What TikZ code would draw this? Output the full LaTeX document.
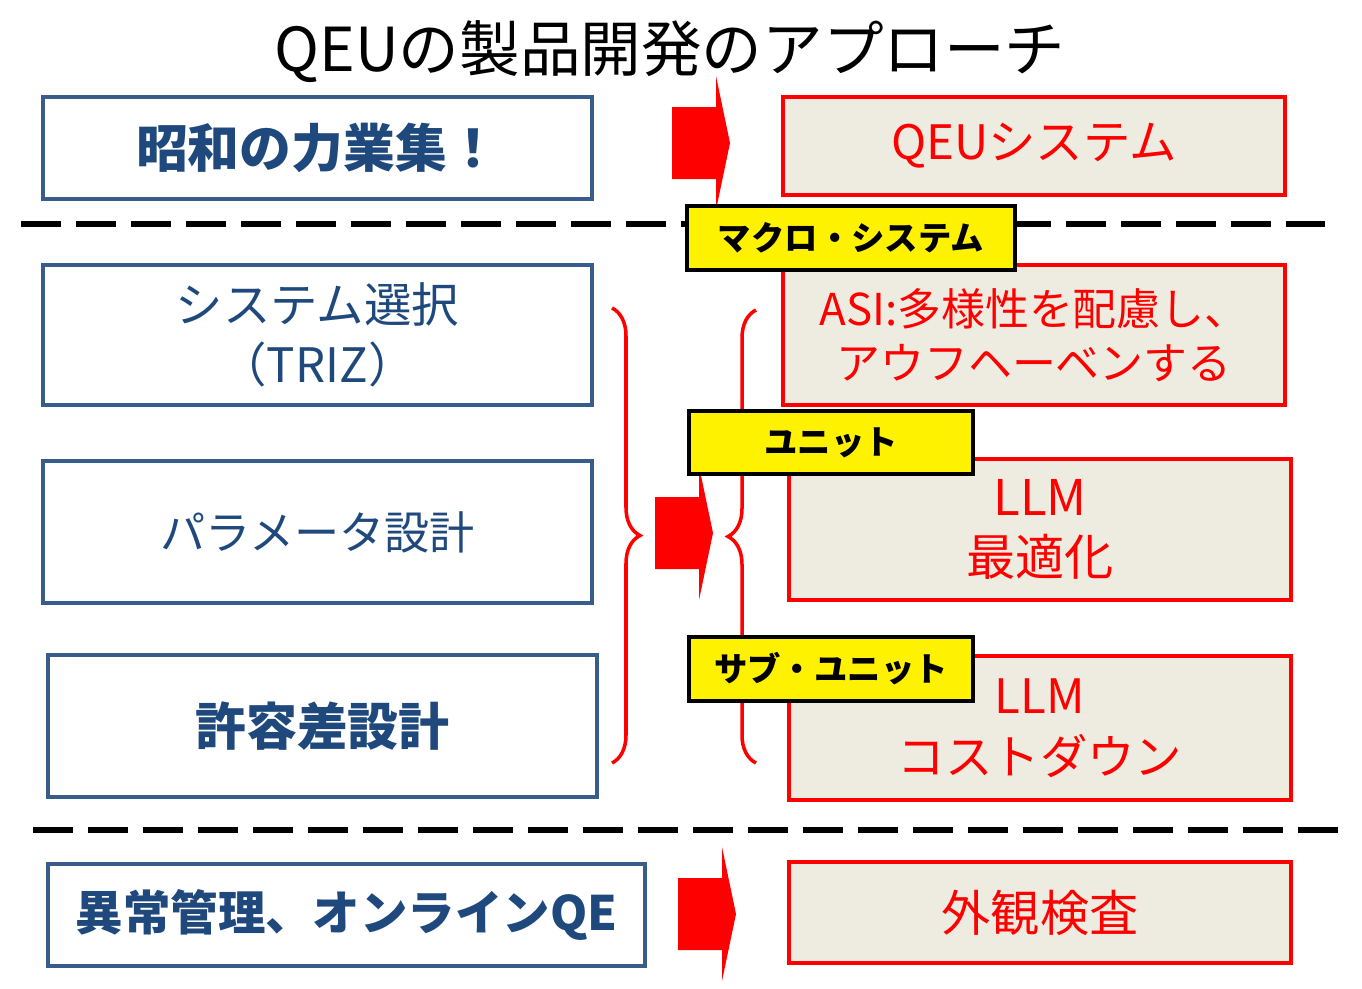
\documentclass[tikz,border=0pt]{standalone}
\usepackage{fontspec}
\setmainfont{Noto Sans CJK JP}
\usetikzlibrary{decorations.pathreplacing}
\definecolor{boxblue}{RGB}{56,93,138}
\definecolor{textblue}{RGB}{31,73,125}
\definecolor{boxtan}{RGB}{238,236,225}
\newcommand{\fs}[2]{\fontsize{#1}{#2}\selectfont}
\newcommand{\blockarrow}[2]{\fill[red] (#1,#2) ++(0,-36) -- ++(44,0) -- ++(0,-31) -- ++(14,67) -- ++(-14,67) -- ++(0,-31) -- ++(-44,0) -- cycle;}

\begin{document}
\begin{tikzpicture}[x=0.02cm,y=-0.02cm,
	leftbox/.style={draw=boxblue,line width=2.3pt,fill=white,text=textblue,minimum width=10.98cm,align=center},
	rightbox/.style={draw=red,line width=2.3pt,fill=boxtan,text=red,minimum width=10.04cm,align=center},
	tagbox/.style={draw=black,line width=2.3pt,fill=yellow,font=\bfseries\fs{19}{23},align=center},
	sepline/.style={line width=3.4pt,dash pattern=on 0.8cm off 0.3cm},
	curly/.style={red,line width=2pt,decorate,decoration={brace,amplitude=0.56cm}}]
	\useasboundingbox (0,0) rectangle (1362,988);
	\node (title) at (670,52) {\fs{34.5}{40}QEUの製品開発のアプローチ};
	
	\draw[sepline] (21,224) -- (1325,224);
	\draw[sepline] (33,830) -- (1338,830);
	
	\node[leftbox,minimum height=2.04cm,font=\bfseries\fs{29.5}{35}] (showa) at (317.5,148) {昭和の力業集！};
	\node[leftbox,minimum height=2.8cm,font=\fs{27}{34}] (sysel) at (317.5,335) {システム選択\\（TRIZ）};
	\node[leftbox,minimum height=2.84cm,font=\fs{25.7}{30}] (param) at (317.5,532) {パラメータ設計};
	\node[leftbox,minimum height=2.84cm,font=\bfseries\fs{29}{34}] (toler) at (322.5,726) {許容差設計};
	\node[leftbox,minimum width=11.94cm,minimum height=2.04cm,font=\bfseries\fs{27}{32}] (online) at (346.5,915) {異常管理、オンラインQE};
	
	\node[rightbox,minimum height=1.96cm,font=\fs{27}{32}] (qeu) at (1034,146) {QEUシステム};
	\node[rightbox,minimum height=2.8cm,font=\fs{25}{31}] (asi) at (1034,335) {ASI:多様性を配慮し、\\アウフヘーベンする};
	\node[rightbox,minimum height=2.82cm,font=\fs{28}{34.5}] (llmopt) at (1040,529.5) {LLM\\最適化};
	\node[rightbox,minimum height=2.88cm,font=\fs{27}{35}] (llmcost) at (1040,728) {LLM\\コストダウン};
	\node[rightbox,minimum height=2.02cm,font=\fs{28}{33}] (kensa) at (1040,912.5) {外観検査};
	
	\blockarrow{672}{143}
	\blockarrow{655}{533}
	\blockarrow{678}{914}
	
	\coordinate (lbtop) at (612,308);
	\coordinate (lbbot) at (612,763);
	\coordinate (rbtop) at (756,310);
	\coordinate (rbbot) at (756,763);
	\draw[curly] (lbtop) -- (lbbot);
	\draw[curly] (rbbot) -- (rbtop);
	
	\node[tagbox,minimum width=6.56cm,minimum height=1.28cm] (macro) at (851,238) {マクロ・システム};
	\node[tagbox,minimum width=5.68cm,minimum height=1.26cm] (unit) at (831,442.5) {ユニット};
	\node[tagbox,minimum width=5.68cm,minimum height=1.28cm] (subunit) at (831,669) {サブ・ユニット};
\end{tikzpicture}
\end{document}
